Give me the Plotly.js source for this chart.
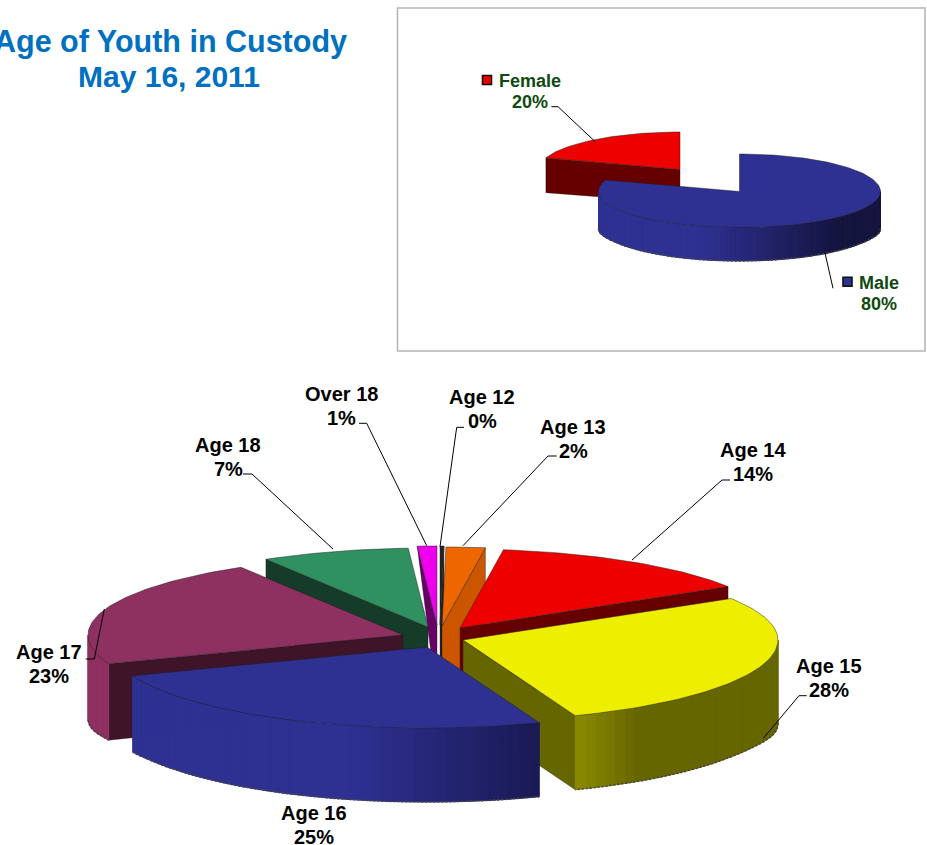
<!DOCTYPE html>
<html><head><meta charset="utf-8">
<script src="https://cdn.plot.ly/plotly-3.0.1.min.js"></script>
<style>html,body{margin:0;padding:0;background:#fff}#c{width:927px;height:845px}</style>
</head><body><div id="c"></div>
<script>
// ---- data ----
var ageCategories = ["Age 12","Age 13","Age 14","Age 15","Age 16","Age 17","Age 18","Over 18"];
var agePercentLabels = ["0%","2%","14%","28%","25%","23%","7%","1%"];
var ageValues = [0.2,2,14,28,25,22.2,7.6,1];
var sexCategories = ["Male","Female"];
var sexPercentLabels = ["80%","20%"];
var sexValues = [80,20];
var titleLines = ["Age of Youth in Custody","May 16, 2011"];

// ---- styles ----
var ageTop  = ["#222222","#EE6600","#EE0000","#EEEE00","#2E3192","#8E3060","#2F9060","#EE00EE"];
var ageFace = ["#222222","#CC5500","#660000","#666600","#2E3192","#3F1428","#143C28","#660066"];
var ageWallA= ["#333333","#CC5500","#660000","#8A8A00","#2E3192","#8E3060","#143C28","#660066"];
var ageWallB= ["#333333","#CC5500","#660000","#666600","#16164A","#8E3060","#143C28","#660066"];
var sexTop  = ["#2E3192","#EE0000"];
var sexFace = ["#2E3192","#660000"];
var sexWallA= ["#2E3192","#660000"];
var sexWallB= ["#14143F","#660000"];

// ---- pie geometry (layout only) ----
var agePie = {rx:315, ryB:79, ryF:81, hMid:74, hSide:83, tips:[[440,625],[442,626],[460,628],[463,640],[427,647],[403,635],[428,627],[437,625]],
  order:[7,0,1,6,2,5,3,4], gradS:[[0,0],[0,0],[0,0],[.36,.55],[-.25,.45],[0,0],[0,0],[0,0]]};
var sexPie = {rx:141, ryB:37.5, ryF:36, hMid:33.5, hSide:37, tips:[[739.5,191.5],[680,169.5]],
  order:[1,0], gradS:[[-.28,.7],[0,0]]};

var traces=[];
function hex2(c){return [parseInt(c.substr(1,2),16),parseInt(c.substr(3,2),16),parseInt(c.substr(5,2),16)];}
function mix(a,b,t){var A=hex2(a),B=hex2(b);return 'rgb('+[0,1,2].map(function(i){return Math.round(A[i]+(B[i]-A[i])*t)}).join(',')+')';}
function poly(xs,ys,fill,lineColor,lw){
  traces.push({type:'scatter',mode:'lines',x:xs,y:ys,fill:'toself',fillcolor:fill,
    line:{color:lineColor||fill,width:lw===undefined?1:lw},hoverinfo:'skip',showlegend:false});
}
function drawPie(p,values,top,face,wa,wb){
  var total=values.reduce(function(a,b){return a+b},0), acc=0, ang=[];
  values.forEach(function(v){ang.push([acc/total*2*Math.PI,(acc+v)/total*2*Math.PI]);acc+=v;});
  function rim(i,t){var T=p.tips[i],c=Math.cos(t),s=Math.sin(t);
    return [T[0]+p.rx*s, T[1]-(c>0?p.ryB:p.ryF)*c];}
  function depth(t){return p.hMid+(p.hSide-p.hMid)*Math.pow(Math.abs(Math.sin(t)),20);}
  p.order.forEach(function(i){
    var a=ang[i][0], b=ang[i][1], T=p.tips[i], hT=p.hMid;
    [[a,Math.sin(a)<-1e-6],[b,Math.sin(b)>1e-6]].forEach(function(f){
      if(!f[1])return;
      var R=rim(i,f[0]), hR=(f[0]>6.1)?0:depth(f[0]);
      poly([R[0],T[0],T[0],R[0],R[0]],[R[1],T[1],T[1]+hT,R[1]+hR,R[1]],face[i],'rgba(30,30,30,.55)',0.7);
    });
    var lo=Math.max(a,Math.PI/2), hi=Math.min(b,1.5*Math.PI);
    if(hi>lo){
      var n=Math.ceil((hi-lo)/(2*Math.PI/180)), k, gs=p.gradS[i], bx=[], by=[];
      for(k=0;k<n;k++){
        var t1=lo+(hi-lo)*k/n, t2=lo+(hi-lo)*(k+1)/n, P=rim(i,t1), Q=rim(i,t2), sm=Math.sin((t1+t2)/2);
        var g=gs[1]>gs[0]?Math.max(0,Math.min(1,(sm-gs[0])/(gs[1]-gs[0]))):0;
        var col=mix(wa[i],wb[i],g);
        poly([P[0],Q[0],Q[0],P[0],P[0]],[P[1],Q[1],Q[1]+depth(t2),P[1]+depth(t1),P[1]],col,col,1);
      }
      for(k=0;k<=n;k++){var t=lo+(hi-lo)*k/n, P2=rim(i,t);bx.push(P2[0]);by.push(P2[1]+depth(t));}
      traces.push({type:'scatter',mode:'lines',x:bx,y:by,line:{color:'#444',width:1.6,dash:'2px,2px'},hoverinfo:'skip',showlegend:false});
    }
    var xs=[T[0]],ys=[T[1]], m=Math.max(2,Math.ceil((b-a)/(1.5*Math.PI/180))), j;
    for(j=0;j<=m;j++){var r=rim(i,a+(b-a)*j/m);xs.push(r[0]);ys.push(r[1]);}
    xs.push(T[0]);ys.push(T[1]);
    poly(xs,ys,top[i],'rgba(30,30,30,.6)',0.8);
  });
}
drawPie(sexPie,sexValues,sexTop,sexFace,sexWallA,sexWallB);
drawPie(agePie,ageValues,ageTop,ageFace,ageWallA,ageWallB);

var leaders=[
 [[551.4,558,595.5],[106.7,106.7,142]],
 [[825,833],[253,288.3]],
 [[359,366.7,426.7],[423.3,423.3,545.7]],
 [[464,456.7,440],[427.3,427.3,546.7]],
 [[556.7,548,463],[456,456,545.7]],
 [[730,722,632],[480,480,560]],
 [[806.7,799,763.3],[695.7,695.7,738.3]],
 [[85.7,94.3,104.3],[659,659,609]],
 [[243,252,333],[474,474,549]]
];
leaders.forEach(function(l){
  traces.push({type:'scatter',mode:'lines',x:l[0],y:l[1],line:{color:'#000',width:1},hoverinfo:'skip',showlegend:false});
});
traces.push({type:'scatter',mode:'markers',x:[487,847.5],y:[80,281.7],
  marker:{symbol:'square',size:9,color:[sexTop[1],sexTop[0]],line:{color:'#111',width:1.6}},hoverinfo:'skip',showlegend:false});

var anns=[];
function txt(x,y,t,size,color){anns.push({xref:'x',yref:'y',x:x,y:y,text:'<b>'+t+'</b>',showarrow:false,xanchor:'center',yanchor:'middle',
  font:{family:'"Liberation Sans",Arial,sans-serif',size:size,color:color}});}
txt(170,41,titleLines[0],30.5,'#0070C0');
txt(169,76,titleLines[1],30,'#0070C0');
var sexLabelPos=[[879,283,304],[530,81,101.5]];
sexCategories.forEach(function(c,i){var P=sexLabelPos[i];txt(P[0],P[1],c,18,'#0F4A10');txt(P[0],P[2],sexPercentLabels[i],18,'#0F4A10');});
var ageLabelPos=[[482,397],[573,427],[753,450],[829,666],[314,813],[49,652],[228,445],[341,394]];
ageCategories.forEach(function(c,i){var P=ageLabelPos[i];txt(P[0],P[1],c,20,'#000');txt(P[0],P[1]+24,agePercentLabels[i],20,'#000');});

var hidden={visible:false,fixedrange:true};
Plotly.newPlot('c',traces,{
  width:927,height:845,margin:{l:0,r:0,t:0,b:0},paper_bgcolor:'#fff',plot_bgcolor:'#fff',showlegend:false,
  xaxis:Object.assign({range:[0,927]},hidden),
  yaxis:Object.assign({range:[845,0]},hidden),
  annotations:anns,
  shapes:[{type:'rect',xref:'x',yref:'y',x0:397.5,x1:925,y0:8,y1:351,line:{color:'#B4B4B4',width:1.5},layer:'below'}]
},{staticPlot:true,displayModeBar:false});
</script></body></html>
